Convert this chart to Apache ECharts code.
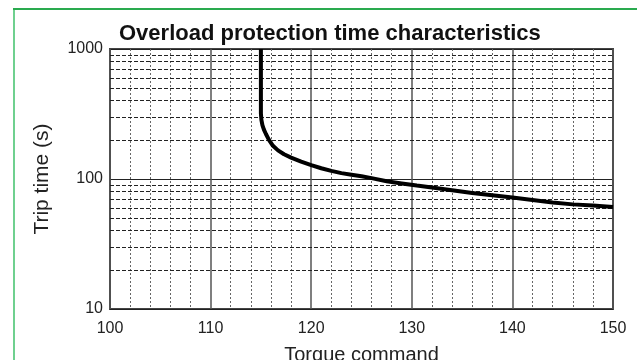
<!DOCTYPE html>
<html>
<head>
<meta charset="utf-8">
<script src="https://cdn.jsdelivr.net/npm/echarts@6/dist/echarts.min.js"></script>
<style>
  html, body { margin: 0; padding: 0; background: #fff; }
  #container { width: 637px; height: 360px; }
</style>
</head>
<body>
<div id="container"></div>
<script>
// torque command (%) vs trip time (s)
var torque = [115, 115, 115.05, 115.15, 115.3, 115.5, 115.8, 116.2, 116.7, 117.3, 118, 119, 120, 121, 122, 123, 124, 125, 126, 127.5, 129, 130.5, 132, 134, 136, 138, 140, 142, 144, 146, 148, 150];
var tripTime = [1000, 320, 285, 260, 240, 222, 200, 180, 166, 155, 146, 136, 128, 121, 115.5, 111, 108, 105, 101.5, 96, 92.5, 89, 86, 82, 78, 75, 72, 69, 66, 63.8, 62.5, 61];

// dashed horizontal minor grid values
var minorY = [20, 30, 40, 50, 60, 70, 80, 90, 200, 300, 400, 500, 600, 700, 800, 900];

var titleText = 'Overload protection time characteristics';
var xName = 'Torque command';
var yName = 'Trip time (s)';

var dom = document.getElementById("container");
var myChart = echarts.init(dom);

var curve = [];
for (var i = 0; i < torque.length; i++) {
    curve.push([torque[i], tripTime[i]]);
}
var minorLines = minorY.map(function (v) { return { yAxis: v }; });

var option = {
    animation: false,
    backgroundColor: '#fff',
    textStyle: { fontFamily: 'Liberation Sans, Arial, sans-serif' },
    title: {
        text: titleText,
        left: 114,
        top: 18,
        textStyle: { fontSize: 22, fontWeight: 'bold', color: '#111' }
    },
    graphic: [
        { type: 'line', shape: { x1: 14, y1: 9, x2: 14, y2: 360 }, style: { stroke: '#6fd08f', lineWidth: 2 } },
        { type: 'line', shape: { x1: 13, y1: 9, x2: 637, y2: 9 }, style: { stroke: '#2aaa4f', lineWidth: 2 } }
    ],
    grid: {
        left: 110,
        right: 24,
        top: 49,
        bottom: 51,
        outerBoundsMode: 'none',
        containLabel: false,
        show: true,
        borderColor: '#444',
        borderWidth: 2
    },
    xAxis: {
        type: 'value',
        min: 100,
        max: 150,
        interval: 10,
        name: xName,
        nameLocation: 'middle',
        nameGap: 36,
        nameTextStyle: { fontSize: 20, color: '#222' },
        axisLine: { show: false },
        axisTick: { show: false },
        axisLabel: { fontSize: 16, color: '#222', margin: 12 },
        splitLine: { show: true, lineStyle: { color: '#555', width: 1.5 } },
        minorTick: { show: false, splitNumber: 5 },
        minorSplitLine: { show: true, lineStyle: { color: '#666', width: 1, type: [2, 2] } }
    },
    yAxis: {
        type: 'log',
        logBase: 10,
        min: 10,
        max: 1000,
        name: yName,
        nameLocation: 'middle',
        nameGap: 57,
        nameTextStyle: { fontSize: 21, color: '#222' },
        axisLine: { show: false },
        axisTick: { show: false },
        axisLabel: { fontSize: 16, color: '#222', margin: 7, formatter: function (v) { return String(v); } },
        splitLine: { show: true, lineStyle: { color: '#222', width: 1 } }
    },
    series: [{
        type: 'line',
        data: curve,
        showSymbol: false,
        smooth: false,
        lineStyle: { color: '#000', width: 4 },
        z: 10,
        markLine: {
            silent: true,
            symbol: 'none',
            label: { show: false },
            lineStyle: { color: '#222', width: 1, type: [4, 2] },
            data: minorLines
        }
    }]
};
myChart.setOption(option, true);
</script>
</body>
</html>
